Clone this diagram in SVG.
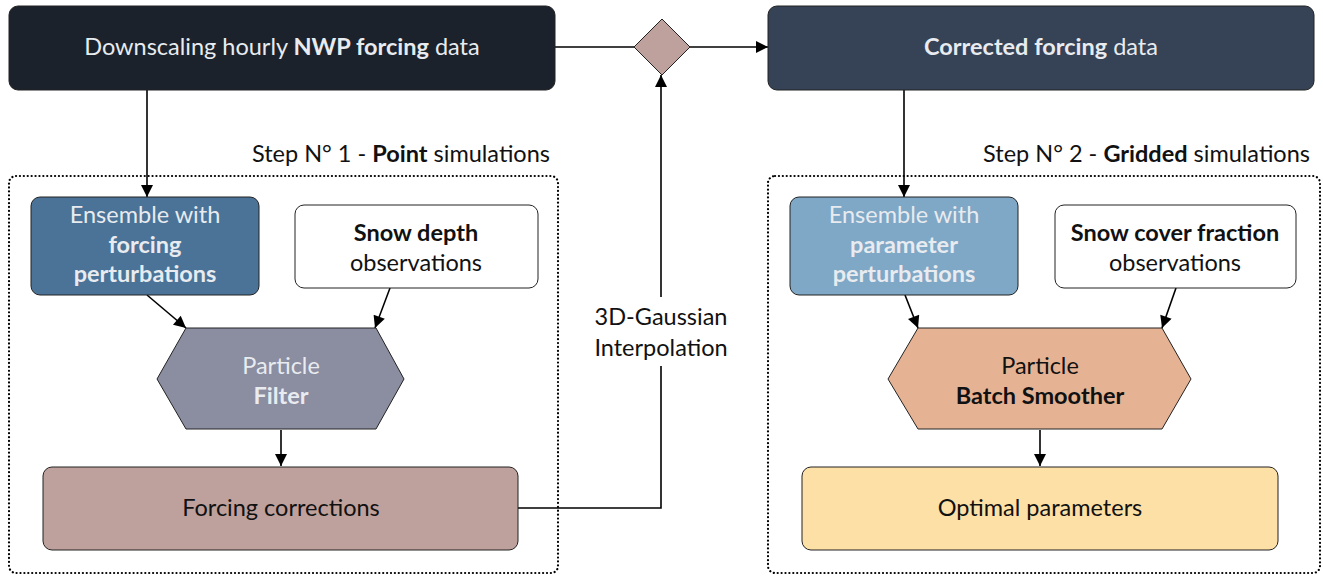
<svg xmlns="http://www.w3.org/2000/svg" width="1323" height="576" viewBox="0 0 1323 576">
<style>
text{font-family:"Lato","Liberation Sans",sans-serif;font-size:23.5px;text-anchor:middle}
.b{font-weight:bold}
.lt{fill:#e8ebef}
.k{fill:#111111}
.box{stroke:#222222;stroke-width:1}
.dot{fill:none;stroke:#000;stroke-width:2.2;stroke-dasharray:0.1 3.8;stroke-linecap:round}
.con{fill:none;stroke:#000;stroke-width:1.6}
</style>
<defs>
<marker id="ah" viewBox="0 0 10 10" refX="10" refY="5" markerWidth="13" markerHeight="12" markerUnits="userSpaceOnUse" orient="auto">
<path d="M0,0 L10,5 L0,10 z" fill="#000"/>
</marker>
</defs>
<rect width="1323" height="576" fill="#ffffff"/>
<g id="step1">
<rect class="dot" x="9" y="176" width="549" height="397" rx="7"/>
<text x="550" y="162" class="k" style="text-anchor:end">Step N° 1 - <tspan class="b">Point</tspan> simulations</text>
</g>
<g id="step2">
<rect class="dot" x="768" y="176" width="552" height="397" rx="7"/>
<text x="1310" y="162" class="k" style="text-anchor:end">Step N° 2 - <tspan class="b">Gridded</tspan> simulations</text>
</g>
<g id="connectors">
<line class="con" x1="555" y1="47" x2="634" y2="47"/>
<line class="con" x1="690" y1="47" x2="768" y2="47" marker-end="url(#ah)"/>
<line class="con" x1="147" y1="90" x2="147" y2="197" marker-end="url(#ah)"/>
<line class="con" x1="904" y1="90" x2="904" y2="197" marker-end="url(#ah)"/>
<line class="con" x1="147" y1="295" x2="186" y2="328" marker-end="url(#ah)"/>
<line class="con" x1="390" y1="288" x2="375" y2="328" marker-end="url(#ah)"/>
<line class="con" x1="281" y1="430" x2="281" y2="466" marker-end="url(#ah)"/>
<line class="con" x1="905" y1="295" x2="918" y2="328" marker-end="url(#ah)"/>
<line class="con" x1="1176" y1="288" x2="1162" y2="328" marker-end="url(#ah)"/>
<line class="con" x1="1040" y1="430" x2="1040" y2="466" marker-end="url(#ah)"/>
<polyline class="con" points="518,508 661,508 661,366"/>
<line class="con" x1="661" y1="297" x2="661" y2="75" marker-end="url(#ah)"/>
<text x="661" y="325" class="k">3D-Gaussian</text>
<text x="661" y="356" class="k">Interpolation</text>
</g>
<g id="nwp">
<rect class="box" x="9" y="6" width="546" height="84" rx="9" fill="#1b222b"/>
<text x="282" y="55" class="lt">Downscaling hourly <tspan class="b">NWP forcing</tspan> data</text>
</g>
<g id="merge">
<polygon class="box" points="634,47 662,19 690,47 662,75" fill="#bea09c"/>
</g>
<g id="corrected">
<rect class="box" x="768" y="6" width="546" height="84" rx="9" fill="#364255"/>
<text x="1041" y="55" class="lt"><tspan class="b">Corrected forcing</tspan> data</text>
</g>
<g id="ens1">
<rect class="box" x="31" y="197" width="228" height="98" rx="9" fill="#4a7397"/>
<text x="145" y="223" class="lt">Ensemble with</text>
<text x="145" y="253" class="lt b">forcing</text>
<text x="145" y="282" class="lt b">perturbations</text>
</g>
<g id="obs1">
<rect class="box" x="295" y="205" width="243" height="83" rx="9" fill="#ffffff" stroke="#444"/>
<text x="416" y="241" class="k b">Snow depth</text>
<text x="416" y="271" class="k">observations</text>
</g>
<g id="pf">
<polygon class="box" points="157,379 186,328 376,328 404,379 376,429 186,429" fill="#8b8da1"/>
<text x="281" y="374" class="lt">Particle</text>
<text x="281" y="404" class="lt b">Filter</text>
</g>
<g id="fc">
<rect class="box" x="43" y="467" width="475" height="83" rx="9" fill="#bea09c"/>
<text x="281" y="516" class="k">Forcing corrections</text>
</g>
<g id="ens2">
<rect class="box" x="790" y="197" width="228" height="98" rx="9" fill="#7fa7c6"/>
<text x="904" y="223" class="lt">Ensemble with</text>
<text x="904" y="253" class="lt b">parameter</text>
<text x="904" y="282" class="lt b">perturbations</text>
</g>
<g id="obs2">
<rect class="box" x="1055" y="205" width="241" height="83" rx="9" fill="#ffffff" stroke="#444"/>
<text x="1175" y="241" class="k b">Snow cover fraction</text>
<text x="1175" y="271" class="k">observations</text>
</g>
<g id="pbs">
<polygon class="box" points="888,379 918,328 1162,328 1191,379 1162,429 918,429" fill="#e5b394"/>
<text x="1040" y="374" class="k">Particle</text>
<text x="1040" y="404" class="k b">Batch Smoother</text>
</g>
<g id="opt">
<rect class="box" x="802" y="467" width="476" height="83" rx="9" fill="#fde0a6"/>
<text x="1040" y="516" class="k">Optimal parameters</text>
</g>
</svg>
